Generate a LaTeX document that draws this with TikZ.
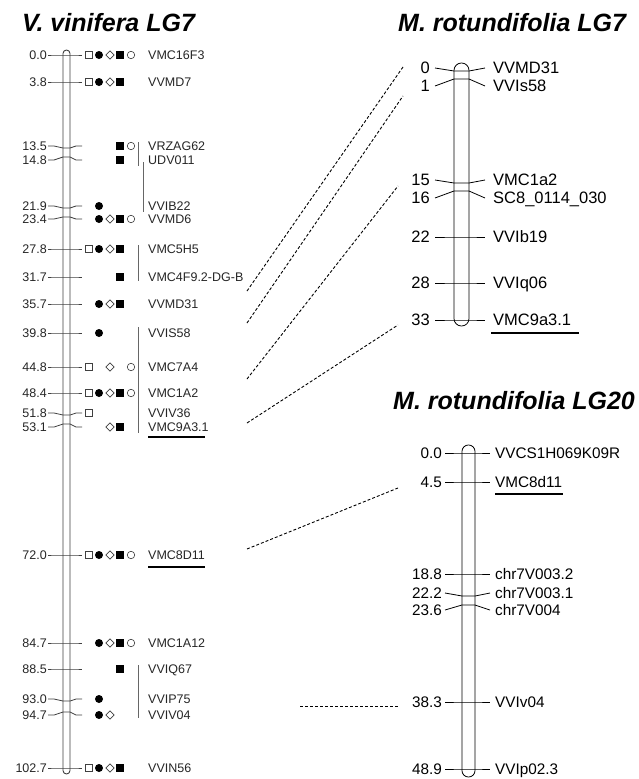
\documentclass[tikz,border=0pt]{standalone}
\usepackage{fontspec}
\setmainfont{Liberation Sans}
\usetikzlibrary{shapes.geometric}
\newcommand\LSyms[7]{%
  \ifnum#3=1 \node[osq] (#1sa) at (89,#2) {};\fi
  \ifnum#4=1 \node[fcirc] (#1sb) at (99,#2) {};\fi
  \ifnum#5=1 \node[odia] (#1sc) at (110,#2) {};\fi
  \ifnum#6=1 \node[fsq] (#1sd) at (120,#2) {};\fi
  \ifnum#7=1 \node[ocirc] (#1se) at (131,#2) {};\fi
}
\newcommand\LMk[5]{% id, number, label y, chromosome y, name
  \node[lnum] (ln#1) at (47,#3) {#2};
  \node[lname] (lm#1) at (148,#3) {#5};
  \draw[ltick] (ln#1.east) ++(1,0) -- (54,#3) -- (63,#4) -- (70,#4) -- (76,#3) -- (82,#3);
}
\newcommand\RMk[5]{% LG7 right
  \node[rnum] (rn#1) at (430,#3) {#2};
  \node[rname] (rm#1) at (493,#3) {#5};
  \draw[rtick] (435,#3) -- (454,#4) -- (469,#4) -- (485,#3);
}
\newcommand\TMk[5]{% LG20
  \node[tnum] (tn#1) at (442,#3) {#2};
  \node[tname] (tm#1) at (495,#3) {#5};
  \draw[rtick] (445,#3) -- (462,#4) -- (475,#4) -- (490,#3);
}
\begin{document}
\begin{tikzpicture}[x=1pt,y=-1pt,
  lbase/.style={inner sep=0pt,text depth=0pt,text=black!85,font=\fontsize{12.5}{14}\selectfont,text height=9pt},
  lnum/.style={lbase,anchor=east},
  lname/.style={lbase,anchor=west},
  rbase/.style={inner sep=0pt,text depth=0pt,font=\fontsize{16.5}{18}\selectfont,text height=11.8pt},
  rnum/.style={rbase,anchor=east},
  rname/.style={rbase,anchor=west},
  tbase/.style={inner sep=0pt,text depth=0pt,font=\fontsize{15.3}{17}\selectfont,text height=11pt},
  tnum/.style={tbase,anchor=east},
  tname/.style={tbase,anchor=west},
  title/.style={inner sep=0pt,anchor=base west,font=\fontsize{25}{28}\selectfont\bfseries\itshape},
  ltick/.style={draw=black!75,line width=0.8pt},
  rtick/.style={draw=black,line width=0.8pt},
  chrom/.style={draw=black!75,line width=0.9pt},
  bar/.style={draw=black!60,line width=1pt},
  uline/.style={draw=black,line width=1.6pt},
  rline/.style={draw=black,line width=2.2pt},
  dline/.style={draw=black,line width=0.9pt,dash pattern=on 3pt off 2pt},
  osq/.style={draw=black!75,line width=0.6pt,rectangle,minimum size=6.5pt,inner sep=0pt},
  fsq/.style={fill=black,rectangle,minimum size=7.5pt,inner sep=0pt},
  fcirc/.style={fill=black,circle,minimum size=8pt,inner sep=0pt},
  ocirc/.style={draw=black!75,line width=0.6pt,circle,minimum size=7.5pt,inner sep=0pt},
  odia/.style={draw=black!75,line width=0.6pt,diamond,minimum size=8.5pt,inner sep=0pt}]
\useasboundingbox (0,0) rectangle (639,779);
\fill[white] (0,0) rectangle (639,779);

% titles
\node[title] (t1) at (22,31) {V. vinifera LG7};
\node[title] (t2) at (398,31) {M. rotundifolia LG7};
\node[title] (t3) at (393,409) {M. rotundifolia LG20};

% ---------- V. vinifera LG7 ----------
\draw[chrom,rounded corners=3.5pt] (63,50) rectangle (70,774);
\LMk{a}{0.0}{55}{55}{VMC16F3}
\LMk{b}{3.8}{82}{82}{VVMD7}
\LMk{c}{13.5}{146}{148}{VRZAG62}
\LMk{d}{14.8}{160}{157}{UDV011}
\LMk{e}{21.9}{206}{208}{VVIB22}
\LMk{f}{23.4}{219}{217}{VVMD6}
\LMk{g}{27.8}{249}{249}{VMC5H5}
\LMk{h}{31.7}{277}{277}{VMC4F9.2-DG-B}
\LMk{i}{35.7}{304}{304}{VVMD31}
\LMk{j}{39.8}{333}{333}{VVIS58}
\LMk{k}{44.8}{367}{367}{VMC7A4}
\LMk{l}{48.4}{393}{393}{VMC1A2}
\LMk{m}{51.8}{413}{415}{VVIV36}
\LMk{n}{53.1}{427}{424}{VMC9A3.1}
\LMk{o}{72.0}{555}{555}{VMC8D11}
\LMk{p}{84.7}{643}{643}{VMC1A12}
\LMk{q}{88.5}{669}{669}{VVIQ67}
\LMk{r}{93.0}{699}{701}{VVIP75}
\LMk{s}{94.7}{715}{712}{VVIV04}
\LMk{t}{102.7}{768}{768}{VVIN56}

\LSyms{a}{55}11111
\LSyms{b}{82}11110
\LSyms{c}{146}00011
\LSyms{d}{160}00010
\LSyms{e}{206}01000
\LSyms{f}{219}01111
\LSyms{g}{249}11110
\LSyms{h}{277}00010
\LSyms{i}{304}01110
\LSyms{j}{333}01000
\LSyms{k}{367}10101
\LSyms{l}{393}11111
\LSyms{m}{413}10000
\LSyms{n}{427}00110
\LSyms{o}{555}11111
\LSyms{p}{643}01111
\LSyms{q}{669}00010
\LSyms{r}{699}01000
\LSyms{s}{715}01100
\LSyms{t}{768}11110

\draw[bar] (138,142) -- (138,166);
\draw[bar] (143,162) -- (143,212);
\draw[bar] (138,245) -- (138,281);
\draw[bar] (138,327) -- (138,433);
\draw[bar] (138,665) -- (138,718);
\draw[uline] (148,437) -- (205,437);
\draw[uline] (148,567) -- (205,567);

% ---------- M. rotundifolia LG7 ----------
\draw[rtick,rounded corners=7.4pt] (454,63) rectangle (469,326);
\RMk{a}{0}{68}{71}{VVMD31}
\RMk{b}{1}{86}{79}{VVIs58}
\RMk{c}{15}{180}{183}{VMC1a2}
\RMk{d}{16}{198}{191}{SC8\_0114\_030}
\RMk{e}{22}{237}{237}{VVIb19}
\RMk{f}{28}{283}{283}{VVIq06}
\RMk{g}{33}{320}{320}{VMC9a3.1}
\draw[rline] (491,333) -- (579,333);

% ---------- M. rotundifolia LG20 ----------
\draw[rtick,rounded corners=6.4pt] (462,445) rectangle (475,777);
\TMk{a}{0.0}{453}{453}{VVCS1H069K09R}
\TMk{b}{4.5}{482}{482}{VMC8d11}
\TMk{c}{18.8}{574}{574}{chr7V003.2}
\TMk{d}{22.2}{593}{596}{chr7V003.1}
\TMk{e}{23.6}{610}{605}{chr7V004}
\TMk{f}{38.3}{702}{702}{VVIv04}
\TMk{g}{48.9}{769}{769}{VVIp02.3}
\draw[rline] (495,494) -- (563,494);

% ---------- dashed correspondences ----------
\coordinate (d1a) at (247,291); \coordinate (d1b) at (403,67);
\coordinate (d2a) at (247,323); \coordinate (d2b) at (403,96);
\coordinate (d3a) at (247,379); \coordinate (d3b) at (398,186);
\coordinate (d4a) at (247,423); \coordinate (d4b) at (398,325);
\coordinate (d5a) at (247,549); \coordinate (d5b) at (398,488);
\coordinate (d6a) at (300,706); \coordinate (d6b) at (398,706);
\draw[dline] (d1a) -- (d1b);
\draw[dline] (d2a) -- (d2b);
\draw[dline] (d3a) -- (d3b);
\draw[dline] (d4a) -- (d4b);
\draw[dline] (d5a) -- (d5b);
\draw[dline] (d6a) -- (d6b);
\end{tikzpicture}
\end{document}
